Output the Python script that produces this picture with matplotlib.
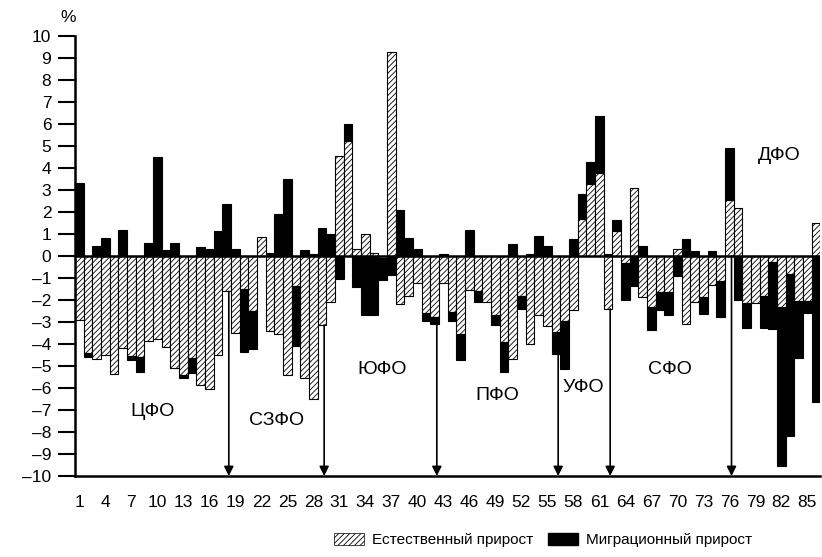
import matplotlib
matplotlib.use('Agg')
import matplotlib.pyplot as plt
import numpy as np
from matplotlib.patches import Patch

# естественный и миграционный прирост по регионам, %
regions = np.arange(1, 87)
natural = [-2.92, -4.40, -4.68, -4.52, -5.35, -4.17, -4.55, -4.58, -3.85, -3.77,
           -4.15, -5.08, -5.43, -4.63, -5.88, -6.06, -4.52, -1.61, -3.50, -1.51,
           -2.49, 0.87, -3.42, -3.57, -5.43, -1.36, -5.54, -6.49, -3.14, -2.10,
           4.52, 5.20, 0.30, 0.97, 0.15, -0.12, 9.26, -2.19, -1.81, -1.25,
           -2.60, -2.79, -1.25, -2.53, -3.54, -1.54, -1.58, -2.08, -2.68, -3.92,
           -4.68, -1.81, -4.01, -2.68, -3.20, -3.47, -2.94, -2.46, 1.66, 3.27,
           3.74, -2.41, 1.13, -0.33, 3.06, -1.89, -2.34, -1.66, -1.66, 0.30,
           -3.09, -2.11, -1.89, -1.33, -1.13, 2.52, 2.19, -2.16, -2.13, -1.82,
           -0.30, -2.32, -0.84, -2.05, -2.05, 1.49]
migration = [3.32, -0.18, 0.45, 0.83, 0.0, 1.19, -0.18, -0.68, 0.60, 4.48,
             0.26, 0.60, -0.10, -0.71, 0.39, 0.32, 1.12, 2.37, 0.32, -2.87,
             -1.73, 0.0, 0.15, 1.92, 3.51, -2.74, 0.26, 0.10, 1.25, 0.98,
             -1.06, 0.80, -1.40, -2.70, -2.68, -0.98, -0.87, 2.07, 0.83, 0.30,
             -0.35, -0.30, 0.10, -0.45, -1.20, 1.18, -0.53, 0.0, -0.45, -1.36,
             0.53, -0.60, 0.10, 0.89, 0.45, -0.98, -2.19, 0.75, 1.13, 0.98,
             2.62, 0.10, 0.48, -1.67, -1.36, 0.45, -1.03, -0.78, -1.03, -0.90,
             0.75, 0.24, -0.75, 0.24, -1.66, 2.38, -1.99, -1.10, 0.0, -1.44,
             -3.04, -7.24, -7.33, -2.58, -0.53, -6.64]

districts = ['ЦФО', 'СЗФО', 'ЮФО', 'ПФО', 'УФО', 'СФО', 'ДФО']
district_pos = [(9.5, -7.05), (23.8, -7.5), (35.9, -5.15), (49.2, -6.36),
                (59.2, -5.98), (69.2, -5.15), (81.8, 4.55)]
# последние регионы округов (стрелки)
boundaries = [18, 29, 42, 56, 62, 76]

plt.rcParams['font.family'] = ['Liberation Sans', 'DejaVu Sans']
plt.rcParams['hatch.linewidth'] = 0.6

nat = np.array(natural)
mig = np.array(migration)
mig_bottom = np.where(np.sign(mig) == np.sign(nat), nat, 0)

fig = plt.figure(figsize=(8.22, 5.57), dpi=100)
ax = fig.add_axes([0.0912, 0.1454, 0.9068, 0.7906])

ax.bar(regions, nat, width=1.0, color='white', edgecolor='black',
       hatch='//////', linewidth=0.8, zorder=2)
ax.bar(regions, mig, bottom=mig_bottom, width=1.0, color='black',
       edgecolor='black', linewidth=0.8, zorder=2)
ax.axhline(0, color='black', lw=1.8, zorder=4)

# стрелки-разделители округов
for k in boundaries:
    i = k - 1
    low = min(0, nat[i]) + min(0, mig[i])
    ax.annotate('', xy=(k + 0.25, -10), xytext=(k + 0.25, low),
                arrowprops=dict(arrowstyle='-|>', color='black', lw=1.2,
                                mutation_scale=14, shrinkA=0, shrinkB=0),
                zorder=5)

for name, (x, y) in zip(districts, district_pos):
    ax.text(x, y, name, ha='center', va='center', fontsize=14)

ax.set_xlim(0.5, 86.5)
ax.set_ylim(-10, 10)
xt = list(range(1, 86, 3))
ax.set_xticks(xt)
ax.set_xticklabels([str(v) for v in xt], fontsize=12.5)
yt = list(range(-10, 11))
ax.set_yticks(yt)
ax.set_yticklabels([('–%d' % -v) if v < 0 else str(v) for v in yt], fontsize=12.5)
ax.tick_params(axis='x', length=0, pad=14)
ax.tick_params(axis='y', length=12, width=1.5, pad=5)
for s in ['top', 'right']:
    ax.spines[s].set_visible(False)
for s in ['left', 'bottom']:
    ax.spines[s].set_linewidth(1.8)

fig.text(68 / 822, 1 - 18 / 557, '%', fontsize=12.5, ha='center', va='center')

# легенда из двух частей
leg_y = 1 - 540 / 557
fig.legend([Patch(facecolor='white', edgecolor='black', hatch='//////', linewidth=0.5)],
           ['Естественный прирост'], loc='center left',
           bbox_to_anchor=(320 / 822, leg_y), frameon=False, fontsize=11,
           handlelength=2.0, handleheight=0.9, handletextpad=0.5)
fig.legend([Patch(facecolor='black', edgecolor='black')],
           ['Миграционный прирост'], loc='center left',
           bbox_to_anchor=(534 / 822, leg_y), frameon=False, fontsize=11,
           handlelength=2.0, handleheight=0.9, handletextpad=0.5)

fig.savefig('out.png', dpi=100)
